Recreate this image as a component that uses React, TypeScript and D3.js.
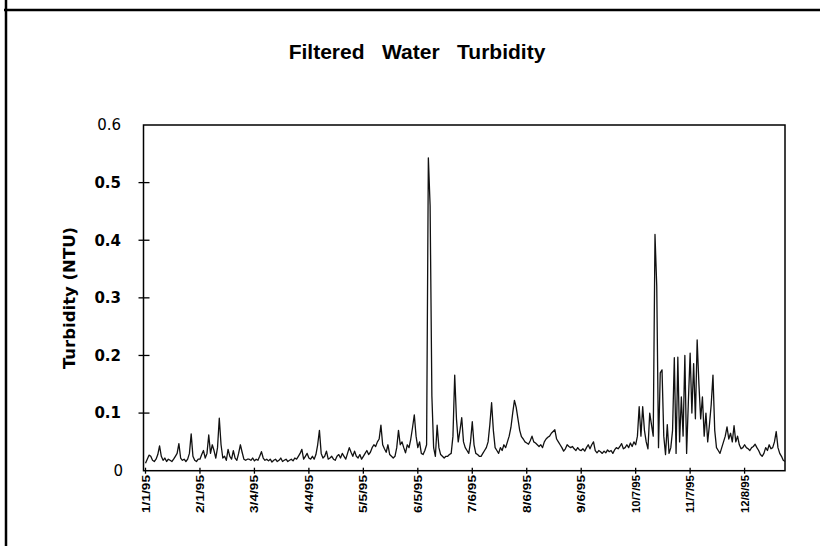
import React from "react";
import * as d3 from "d3";

// daily filtered water turbidity (NTU), 1995, one array per month
const jan = [0.013, 0.02, 0.027, 0.025, 0.018, 0.016, 0.02, 0.028, 0.043, 0.025, 0.018, 0.022, 0.016, 0.02, 0.018, 0.016, 0.02, 0.025, 0.03, 0.047, 0.022, 0.018, 0.02, 0.016, 0.02, 0.03, 0.064, 0.025, 0.018, 0.016, 0.02];
const feb = [0.02, 0.028, 0.035, 0.022, 0.03, 0.062, 0.03, 0.045, 0.035, 0.022, 0.04, 0.091, 0.045, 0.022, 0.025, 0.018, 0.037, 0.025, 0.02, 0.035, 0.022, 0.018, 0.03, 0.045, 0.032, 0.02, 0.018, 0.02];
const mar = [0.02, 0.018, 0.022, 0.017, 0.02, 0.018, 0.025, 0.033, 0.022, 0.018, 0.02, 0.017, 0.02, 0.015, 0.018, 0.02, 0.016, 0.018, 0.022, 0.016, 0.018, 0.02, 0.016, 0.018, 0.02, 0.017, 0.022, 0.02, 0.025, 0.03, 0.037];
const apr = [0.02, 0.025, 0.03, 0.022, 0.02, 0.025, 0.02, 0.028, 0.045, 0.07, 0.03, 0.022, 0.025, 0.034, 0.02, 0.022, 0.025, 0.02, 0.018, 0.025, 0.028, 0.022, 0.03, 0.025, 0.02, 0.03, 0.04, 0.032, 0.025, 0.034];
const may = [0.025, 0.022, 0.028, 0.02, 0.025, 0.03, 0.035, 0.028, 0.032, 0.04, 0.045, 0.042, 0.05, 0.055, 0.079, 0.045, 0.038, 0.032, 0.045, 0.028, 0.025, 0.022, 0.025, 0.04, 0.07, 0.045, 0.05, 0.04, 0.031, 0.045, 0.04];
const jun = [0.055, 0.075, 0.097, 0.06, 0.04, 0.05, 0.03, 0.028, 0.035, 0.045, 0.543, 0.46, 0.13, 0.04, 0.025, 0.079, 0.04, 0.028, 0.025, 0.022, 0.025, 0.025, 0.028, 0.03, 0.06, 0.166, 0.09, 0.05, 0.07, 0.092];
const jul = [0.05, 0.04, 0.035, 0.03, 0.05, 0.085, 0.045, 0.03, 0.028, 0.025, 0.025, 0.03, 0.035, 0.04, 0.05, 0.08, 0.118, 0.07, 0.04, 0.035, 0.03, 0.04, 0.035, 0.045, 0.04, 0.05, 0.06, 0.075, 0.1, 0.122, 0.11];
const aug = [0.09, 0.07, 0.059, 0.055, 0.05, 0.048, 0.046, 0.052, 0.06, 0.05, 0.048, 0.045, 0.042, 0.045, 0.04, 0.05, 0.055, 0.058, 0.06, 0.065, 0.068, 0.071, 0.055, 0.05, 0.045, 0.04, 0.034, 0.038, 0.045, 0.042, 0.04];
const sep = [0.042, 0.038, 0.035, 0.04, 0.036, 0.035, 0.038, 0.034, 0.04, 0.045, 0.038, 0.045, 0.05, 0.035, 0.031, 0.035, 0.033, 0.03, 0.034, 0.031, 0.036, 0.033, 0.035, 0.03, 0.036, 0.04, 0.038, 0.042, 0.047, 0.038];
const oct = [0.04, 0.045, 0.04, 0.048, 0.042, 0.05, 0.045, 0.06, 0.111, 0.06, 0.111, 0.07, 0.05, 0.038, 0.1, 0.08, 0.06, 0.41, 0.32, 0.04, 0.17, 0.175, 0.06, 0.028, 0.08, 0.03, 0.04, 0.07, 0.196, 0.03, 0.197];
const nov = [0.05, 0.128, 0.06, 0.2, 0.03, 0.12, 0.204, 0.1, 0.186, 0.09, 0.227, 0.15, 0.09, 0.128, 0.06, 0.1, 0.05, 0.08, 0.115, 0.166, 0.07, 0.04, 0.035, 0.03, 0.04, 0.05, 0.06, 0.076, 0.055, 0.065];
const dec = [0.05, 0.078, 0.05, 0.06, 0.045, 0.038, 0.04, 0.045, 0.04, 0.038, 0.035, 0.04, 0.042, 0.046, 0.04, 0.035, 0.028, 0.025, 0.03, 0.04, 0.035, 0.045, 0.038, 0.04, 0.05, 0.068, 0.04, 0.03, 0.025, 0.018, 0.016];

const yTicks = [0, 0.1, 0.2, 0.3, 0.4, 0.5, 0.6];
// x ticks are every 31 days starting 1/1/95
const xTickDates = ["1995-01-01", "1995-02-01", "1995-03-04", "1995-04-04", "1995-05-05", "1995-06-05", "1995-07-06", "1995-08-06", "1995-09-06", "1995-10-07", "1995-11-07", "1995-12-08"];

const start = new Date(1995, 0, 1);
const values = [...jan, ...feb, ...mar, ...apr, ...may, ...jun, ...jul, ...aug, ...sep, ...oct, ...nov, ...dec];
const data = values.map((v, i) => ({ date: d3.timeDay.offset(start, i), v }));

const parseDay = d3.timeParse("%Y-%m-%d");
const fmt = (d: Date) => `${d.getMonth() + 1}/${d.getDate()}/95`;

export default function App() {
  const left = 143.5, right = 785, top = 125, bottom = 470.7;

  const x = d3.scaleTime().domain([start, new Date(1995, 11, 31)]).range([145.5, right]);
  const y = d3.scaleLinear().domain([0, 0.6]).range([bottom, top]);

  const line = d3
    .line<{ date: Date; v: number }>()
    .x((d) => x(d.date))
    .y((d) => y(d.v));

  return (
    <svg width={820} height={546} style={{ position: "absolute", left: 0, top: 0, background: "#fff" }}>
      {/* page frame */}
      <line x1={4} x2={820} y1={10} y2={10} stroke="#000" strokeWidth={2.5} />
      <line x1={6} x2={6} y1={0} y2={546} stroke="#000" strokeWidth={2.5} />

      <text x={417} y={59} textAnchor="middle" fontFamily="Liberation Sans, Arial, sans-serif" fontWeight="bold" fontSize={21} style={{ whiteSpace: "pre" }}>
        {"Filtered   Water   Turbidity"}
      </text>

      {/* plot frame */}
      <rect x={left} y={top} width={right - left} height={bottom - top} fill="none" stroke="#000" strokeWidth={1.5} />

      {/* y axis */}
      {yTicks.map((t) => (
        <g key={t}>
          {t > 0 && t < 0.6 && <line x1={left - 5} x2={left + 6} y1={y(t)} y2={y(t)} stroke="#000" strokeWidth={1.3} />}
          <text
            x={t === 0 ? 123 : 121}
            y={y(t)}
            dy="0.36em"
            textAnchor="end"
            fontFamily="DejaVu Sans, sans-serif"
            fontWeight={t === 0 || t === 0.6 ? "normal" : "bold"}
            fontSize={15}
          >
            {t === 0 ? "0" : t.toFixed(1)}
          </text>
        </g>
      ))}
      <text
        transform="translate(75,298) rotate(-90)"
        textAnchor="middle"
        fontFamily="DejaVu Sans, sans-serif"
        fontWeight="bold"
        fontSize={16.5}
      >
        Turbidity (NTU)
      </text>

      {/* x axis */}
      {xTickDates.map((s) => {
        const d = parseDay(s)!;
        const px = x(d);
        return (
          <g key={s}>
            <line x1={px} x2={px} y1={bottom - 3} y2={bottom + 3} stroke="#000" strokeWidth={1.3} />
            <text
              transform={`translate(${px + 4},475) rotate(-90)`}
              textAnchor="end"
              fontFamily="Liberation Sans, Arial, sans-serif"
              fontWeight="bold"
              fontSize={11}
              textLength={38}
              lengthAdjust="spacingAndGlyphs"
            >
              {fmt(d)}
            </text>
          </g>
        );
      })}

      <path d={line(data) ?? ""} fill="none" stroke="#111" strokeWidth={1.3} strokeLinejoin="round" />
    </svg>
  );
}
